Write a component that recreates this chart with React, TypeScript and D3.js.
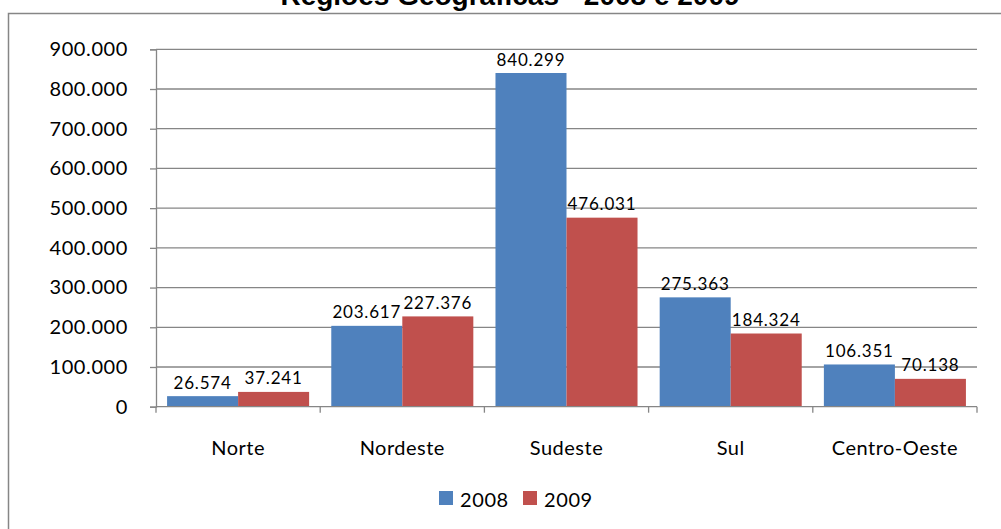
import React, { useEffect, useRef } from 'react';
import * as d3 from 'd3';

// Data
const categories = ['Norte', 'Nordeste', 'Sudeste', 'Sul', 'Centro-Oeste'];
const seriesNames = ['2008', '2009'];
const values2008 = [26574, 203617, 840299, 275363, 106351];
const values2009 = [37241, 227376, 476031, 184324, 70138];
const yTicks = [0, 100000, 200000, 300000, 400000, 500000, 600000, 700000, 800000, 900000];
const title = 'Regiões Geográficas - 2008 e 2009';

const colors = ['#4F81BD', '#C0504D'];
const gridColor = '#868686';

const W = 1001;
const H = 529;

const App: React.FC = () => {
  const svgRef = useRef<SVGSVGElement>(null);

  useEffect(() => {
    if (!svgRef.current) return;
    const svg = d3.select(svgRef.current);
    svg.selectAll('*').remove();

    const ptBR = d3.formatLocale({ decimal: ',', thousands: '.', grouping: [3], currency: ['', ''] });
    const fmt = ptBR.format(',');

    const plot = { left: 156, right: 977, top: 49.3, bottom: 406.7 };

    const x0 = d3.scaleBand<string>().domain(categories).range([plot.left, plot.right]).padding(0);
    const x1 = d3.scaleBand<string>().domain(seriesNames).range([0, x0.bandwidth()])
      .paddingInner(0).paddingOuter(0.156);
    const y = d3.scaleLinear().domain([0, 900000]).range([plot.bottom, plot.top]);

    // outer frame
    svg.append('rect')
      .attr('x', 8.5).attr('y', 13.5)
      .attr('width', 1100).attr('height', 600)
      .attr('fill', 'white')
      .attr('stroke', gridColor).attr('stroke-width', 1.5);

    // title (partly cut off at the top)
    svg.append('text')
      .attr('x', 510).attr('y', 5)
      .attr('text-anchor', 'middle')
      .style('font-family', '"Liberation Sans", Arial, sans-serif')
      .style('font-weight', 'bold')
      .style('font-size', '28px')
      .text(title);

    // gridlines
    svg.append('g').selectAll('line')
      .data(yTicks.filter(t => t > 0))
      .enter().append('line')
      .attr('x1', plot.left).attr('x2', plot.right)
      .attr('y1', d => y(d)).attr('y2', d => y(d))
      .attr('stroke', gridColor).attr('stroke-width', 1.3);

    // y axis
    const yAxis = svg.append('g').attr('transform', `translate(${plot.left},0)`)
      .call(d3.axisLeft(y).tickValues(yTicks).tickSize(6).tickPadding(22).tickFormat(d => fmt(d as number)));
    yAxis.select('.domain').attr('stroke', gridColor).attr('stroke-width', 1.3);
    yAxis.selectAll('.tick line').attr('stroke', gridColor).attr('stroke-width', 1.3);
    yAxis.selectAll('.tick text')
      .attr('fill', '#000')
      .style('font-family', 'Lato, sans-serif')
      .style('font-size', '20px')
      .style('letter-spacing', '0.6px');

    // bars
    const seriesValues = [values2008, values2009];
    const groups = svg.append('g').selectAll('g')
      .data(categories)
      .enter().append('g')
      .attr('transform', d => `translate(${x0(d)},0)`);

    groups.selectAll('rect')
      .data((d, i) => seriesNames.map((s, j) => ({ s, v: seriesValues[j][i], j })))
      .enter().append('rect')
      .attr('x', d => x1(d.s)!)
      .attr('width', x1.bandwidth())
      .attr('y', d => y(d.v))
      .attr('height', d => y(0) - y(d.v))
      .attr('fill', d => colors[d.j]);

    // data labels
    groups.selectAll('text')
      .data((d, i) => seriesNames.map((s, j) => ({ s, v: seriesValues[j][i], j })))
      .enter().append('text')
      .attr('x', d => x1(d.s)! + x1.bandwidth() / 2)
      .attr('y', d => y(d.v) - 7.5)
      .attr('text-anchor', 'middle')
      .style('font-family', 'Lato, sans-serif')
      .style('font-size', '17px')
      .style('letter-spacing', '0.8px')
      .text(d => fmt(d.v));

    // x axis
    const xAxis = svg.append('g').attr('transform', `translate(0,${plot.bottom})`);
    xAxis.append('line')
      .attr('x1', plot.left).attr('x2', plot.right)
      .attr('stroke', gridColor).attr('stroke-width', 1.3);
    const bounds = categories.map(c => x0(c)!).concat([plot.right]);
    xAxis.selectAll('line.tick')
      .data(bounds)
      .enter().append('line')
      .attr('class', 'tick')
      .attr('x1', d => d).attr('x2', d => d)
      .attr('y1', 0).attr('y2', 6)
      .attr('stroke', gridColor).attr('stroke-width', 1.3);
    xAxis.selectAll('text')
      .data(categories)
      .enter().append('text')
      .attr('x', d => x0(d)! + x0.bandwidth() / 2)
      .attr('y', 48.5)
      .attr('text-anchor', 'middle')
      .style('font-family', 'Lato, sans-serif')
      .style('font-size', '20px')
      .style('letter-spacing', '0.5px')
      .text(d => d);

    // legend
    const legend = svg.append('g').attr('transform', 'translate(439,491)');
    const legendX = [0, 84];
    seriesNames.forEach((name, i) => {
      const item = legend.append('g').attr('transform', `translate(${legendX[i]},0)`);
      item.append('rect').attr('width', 14).attr('height', 14).attr('fill', colors[i]);
      item.append('text')
        .attr('x', 21).attr('y', 15.5)
        .style('font-family', 'Lato, sans-serif')
        .style('font-size', '20px')
        .style('letter-spacing', '0.6px')
        .text(name);
    });
  }, []);

  return (
    <svg ref={svgRef} width={W} height={H}
      style={{ position: 'absolute', left: 0, top: 0, background: 'white' }} />
  );
};

export default App;
